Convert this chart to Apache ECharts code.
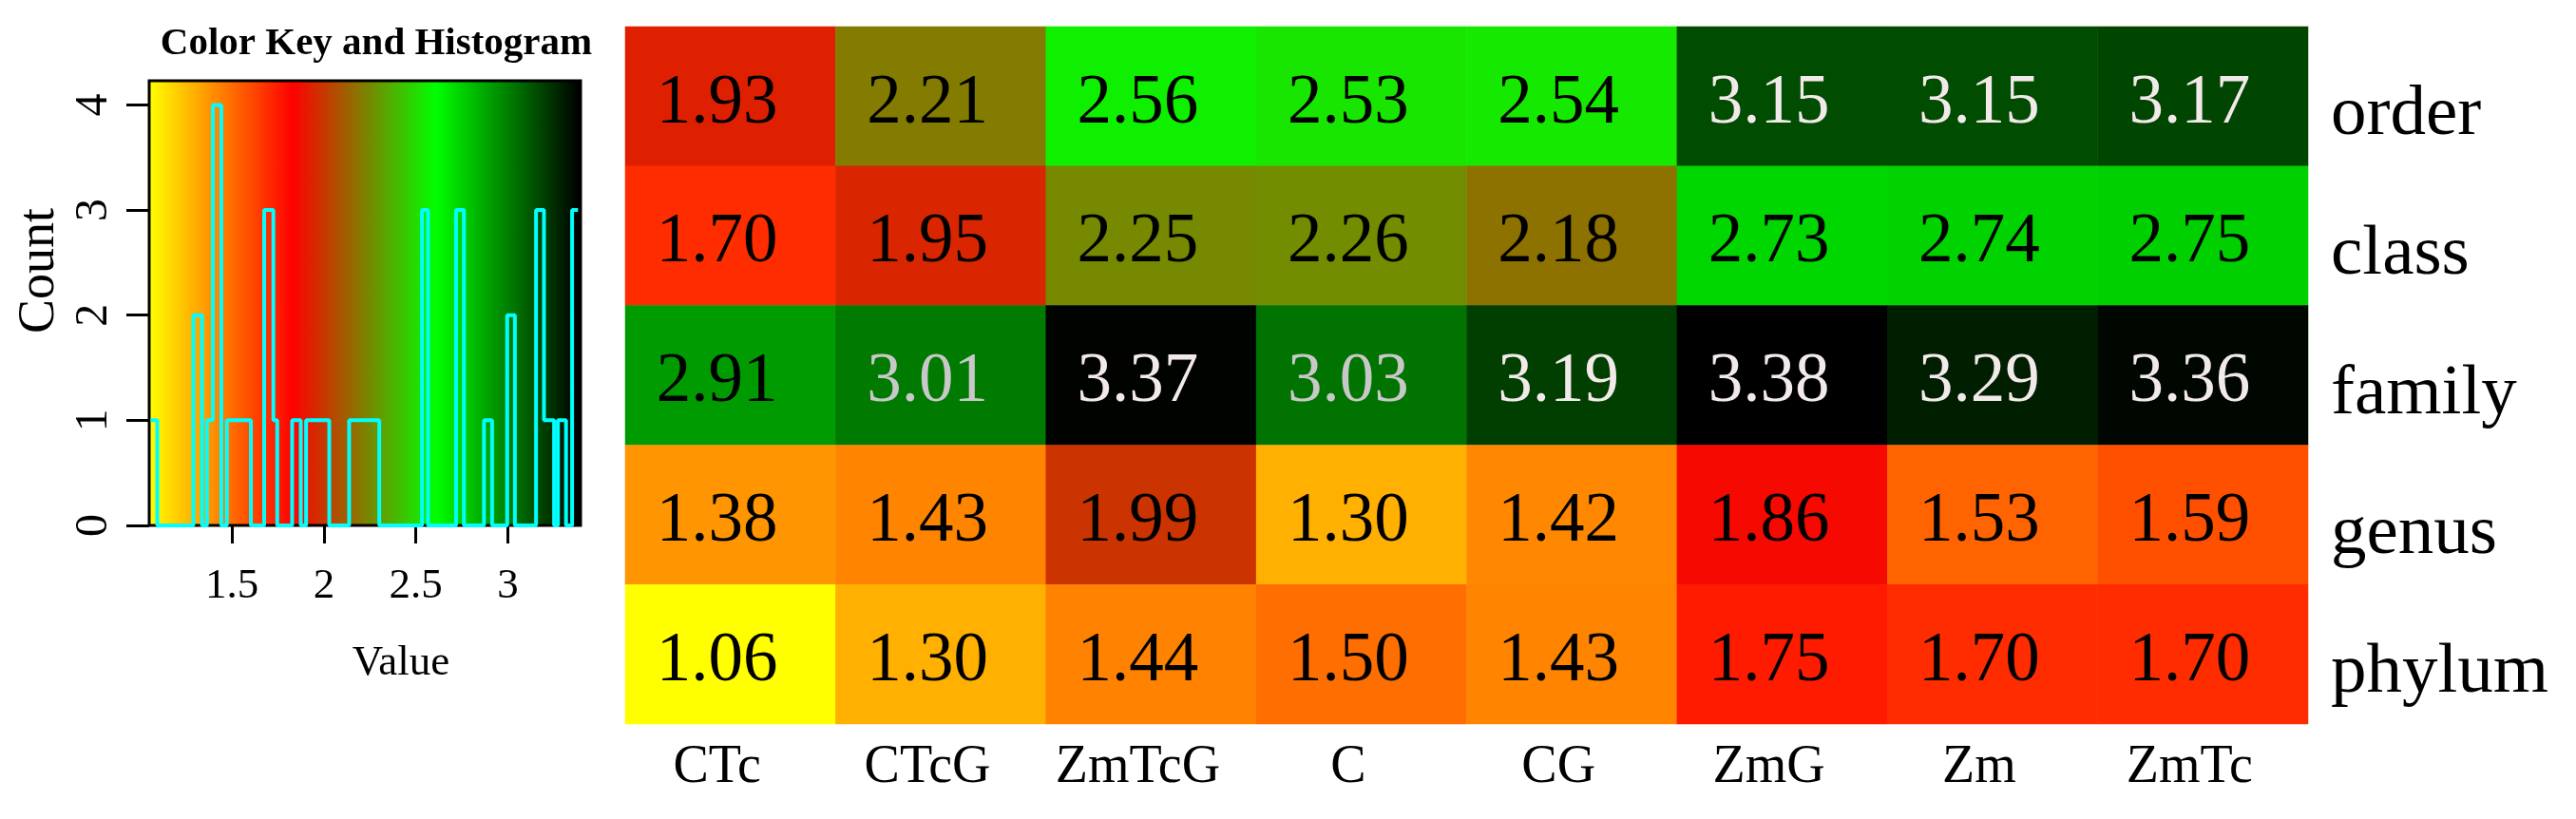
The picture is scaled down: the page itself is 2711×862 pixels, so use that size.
<!DOCTYPE html>
<html><head><meta charset="utf-8">
<script src="https://cdn.jsdelivr.net/npm/echarts@6/dist/echarts.min.js"></script>
<style>html,body{margin:0;padding:0;background:#fff}#c{width:2711px;height:862px}</style>
</head><body><div id="c"></div>
<script>
// ---- heatmap data ----
const columns = ['CTc', 'CTcG', 'ZmTcG', 'C', 'CG', 'ZmG', 'Zm', 'ZmTc'];
const rows = ['order', 'class', 'family', 'genus', 'phylum'];
const orderVals  = [1.93, 2.21, 2.56, 2.53, 2.54, 3.15, 3.15, 3.17];
const classVals  = [1.70, 1.95, 2.25, 2.26, 2.18, 2.73, 2.74, 2.75];
const familyVals = [2.91, 3.01, 3.37, 3.03, 3.19, 3.38, 3.29, 3.36];
const genusVals  = [1.38, 1.43, 1.99, 1.30, 1.42, 1.86, 1.53, 1.59];
const phylumVals = [1.06, 1.30, 1.44, 1.50, 1.43, 1.75, 1.70, 1.70];

// ---- colour key histogram (step line) ----
const histBinStart = [1.058, 1.094, 1.290, 1.337, 1.364, 1.396, 1.442, 1.472, 1.603, 1.675, 1.725, 1.746, 1.827, 1.874, 1.903, 2.029, 2.137, 2.301, 2.533, 2.566, 2.718, 2.761, 2.870, 2.914, 2.996, 3.038, 3.153, 3.196, 3.251, 3.272, 3.316, 3.349, 3.381];
const histCounts   = [1, 0, 2, 0, 1, 4, 0, 1, 0, 3, 1, 0, 1, 0, 1, 0, 1, 0, 3, 0, 3, 0, 1, 0, 2, 0, 3, 1, 0, 1, 0, 3, 3];
const histXTicks = [1.5, 2, 2.5, 3];
const histYTicks = [0, 1, 2, 3, 4];

const keyColors = ['#FFFF00', '#FF0000', '#00FF00', '#000000'];
const valMin = 1.06, valMax = 3.38;
const keyXMin = 1.05, keyXMax = 3.395, keyYMax = 4.23;

const FONT = "'Liberation Serif', 'Times New Roman', serif";

const rowVals = [orderVals, classVals, familyVals, genusVals, phylumVals];
const heatData = [];
rowVals.forEach((vals, r) => {
  vals.forEach((v, c) => {
    const col = v >= 3.1 ? '#F2EAEA' : (v >= 3.0 ? '#C8C8C8' : '#000000');
    heatData.push({ value: [c, r, v], label: { color: col } });
  });
});

const stops = keyColors.map((c, i) => {
  const v = valMin + (valMax - valMin) * i / (keyColors.length - 1);
  return { offset: (v - keyXMin) / (keyXMax - keyXMin), color: c };
});

const chart = echarts.init(document.getElementById('c'));
chart.setOption({
  animation: false,
  backgroundColor: '#ffffff',
  grid: [
    { left: 157, top: 85, width: 454, height: 468, show: true, borderColor: '#000', borderWidth: 3,
      backgroundColor: { type: 'linear', x: 0, y: 0, x2: 1, y2: 0, colorStops: stops } },
    { left: 658, top: 28, width: 1771, height: 734, show: false }
  ],
  xAxis: [
    { type: 'value', gridIndex: 0, min: keyXMin, max: keyXMax,
      splitLine: { show: false }, axisLine: { show: false },
      axisTick: { show: true, customValues: histXTicks, length: 19, lineStyle: { color: '#000', width: 3 } },
      axisLabel: { customValues: histXTicks, fontSize: 45, fontFamily: FONT, color: '#000', margin: 42,
        formatter: v => String(v) } },
    { type: 'category', gridIndex: 1, data: columns, position: 'bottom',
      axisLine: { show: false }, axisTick: { show: false }, splitLine: { show: false },
      axisLabel: { interval: 0, fontSize: 56, fontFamily: FONT, color: '#000', margin: 18, padding: [0, 28, 0, 0] } }
  ],
  yAxis: [
    { type: 'value', gridIndex: 0, min: 0, max: keyYMax,
      splitLine: { show: false }, axisLine: { show: false },
      axisTick: { show: true, customValues: histYTicks, length: 24, lineStyle: { color: '#000', width: 3 } },
      axisLabel: { customValues: histYTicks, rotate: 90, fontSize: 48, fontFamily: FONT, color: '#000', margin: 34,
        formatter: v => String(v) } },
    { type: 'category', gridIndex: 1, data: rows, inverse: true, position: 'right',
      axisLine: { show: false }, axisTick: { show: false }, splitLine: { show: false },
      axisLabel: { interval: 0, fontSize: 75, fontFamily: FONT, color: '#000', margin: 24, align: 'left',
        verticalAlign: 'top', lineHeight: 40 } }
  ],
  visualMap: {
    show: false, type: 'continuous', min: valMin, max: valMax, dimension: 2, seriesIndex: 1,
    inRange: { color: keyColors }
  },
  graphic: [
    { type: 'text', x: 396, y: 46, style: { text: 'Color Key and Histogram', font: 'bold 41px ' + FONT, fill: '#000', align: 'center', verticalAlign: 'middle' } },
    { type: 'text', x: 422, y: 698, style: { text: 'Value', font: '45px ' + FONT, fill: '#000', align: 'center', verticalAlign: 'middle' } },
    { type: 'text', x: 42, y: 285, rotation: Math.PI / 2, style: { text: 'Count', font: '54px ' + FONT, fill: '#000', align: 'center', verticalAlign: 'middle' } }
  ],
  series: [
    { type: 'line', xAxisIndex: 0, yAxisIndex: 0, step: 'end', showSymbol: false, silent: true, clip: false,
      data: histBinStart.map((x, i) => [x, histCounts[i]]),
      lineStyle: { color: '#00FFFF', width: 4 } },
    { type: 'heatmap', xAxisIndex: 1, yAxisIndex: 1, data: heatData, silent: true,
      itemStyle: { borderWidth: 0 },
      label: { show: true, fontSize: 73, fontFamily: FONT, offset: [-14, 8],
        formatter: p => p.value[2].toFixed(2) } }
  ]
});
</script>
</body></html>
